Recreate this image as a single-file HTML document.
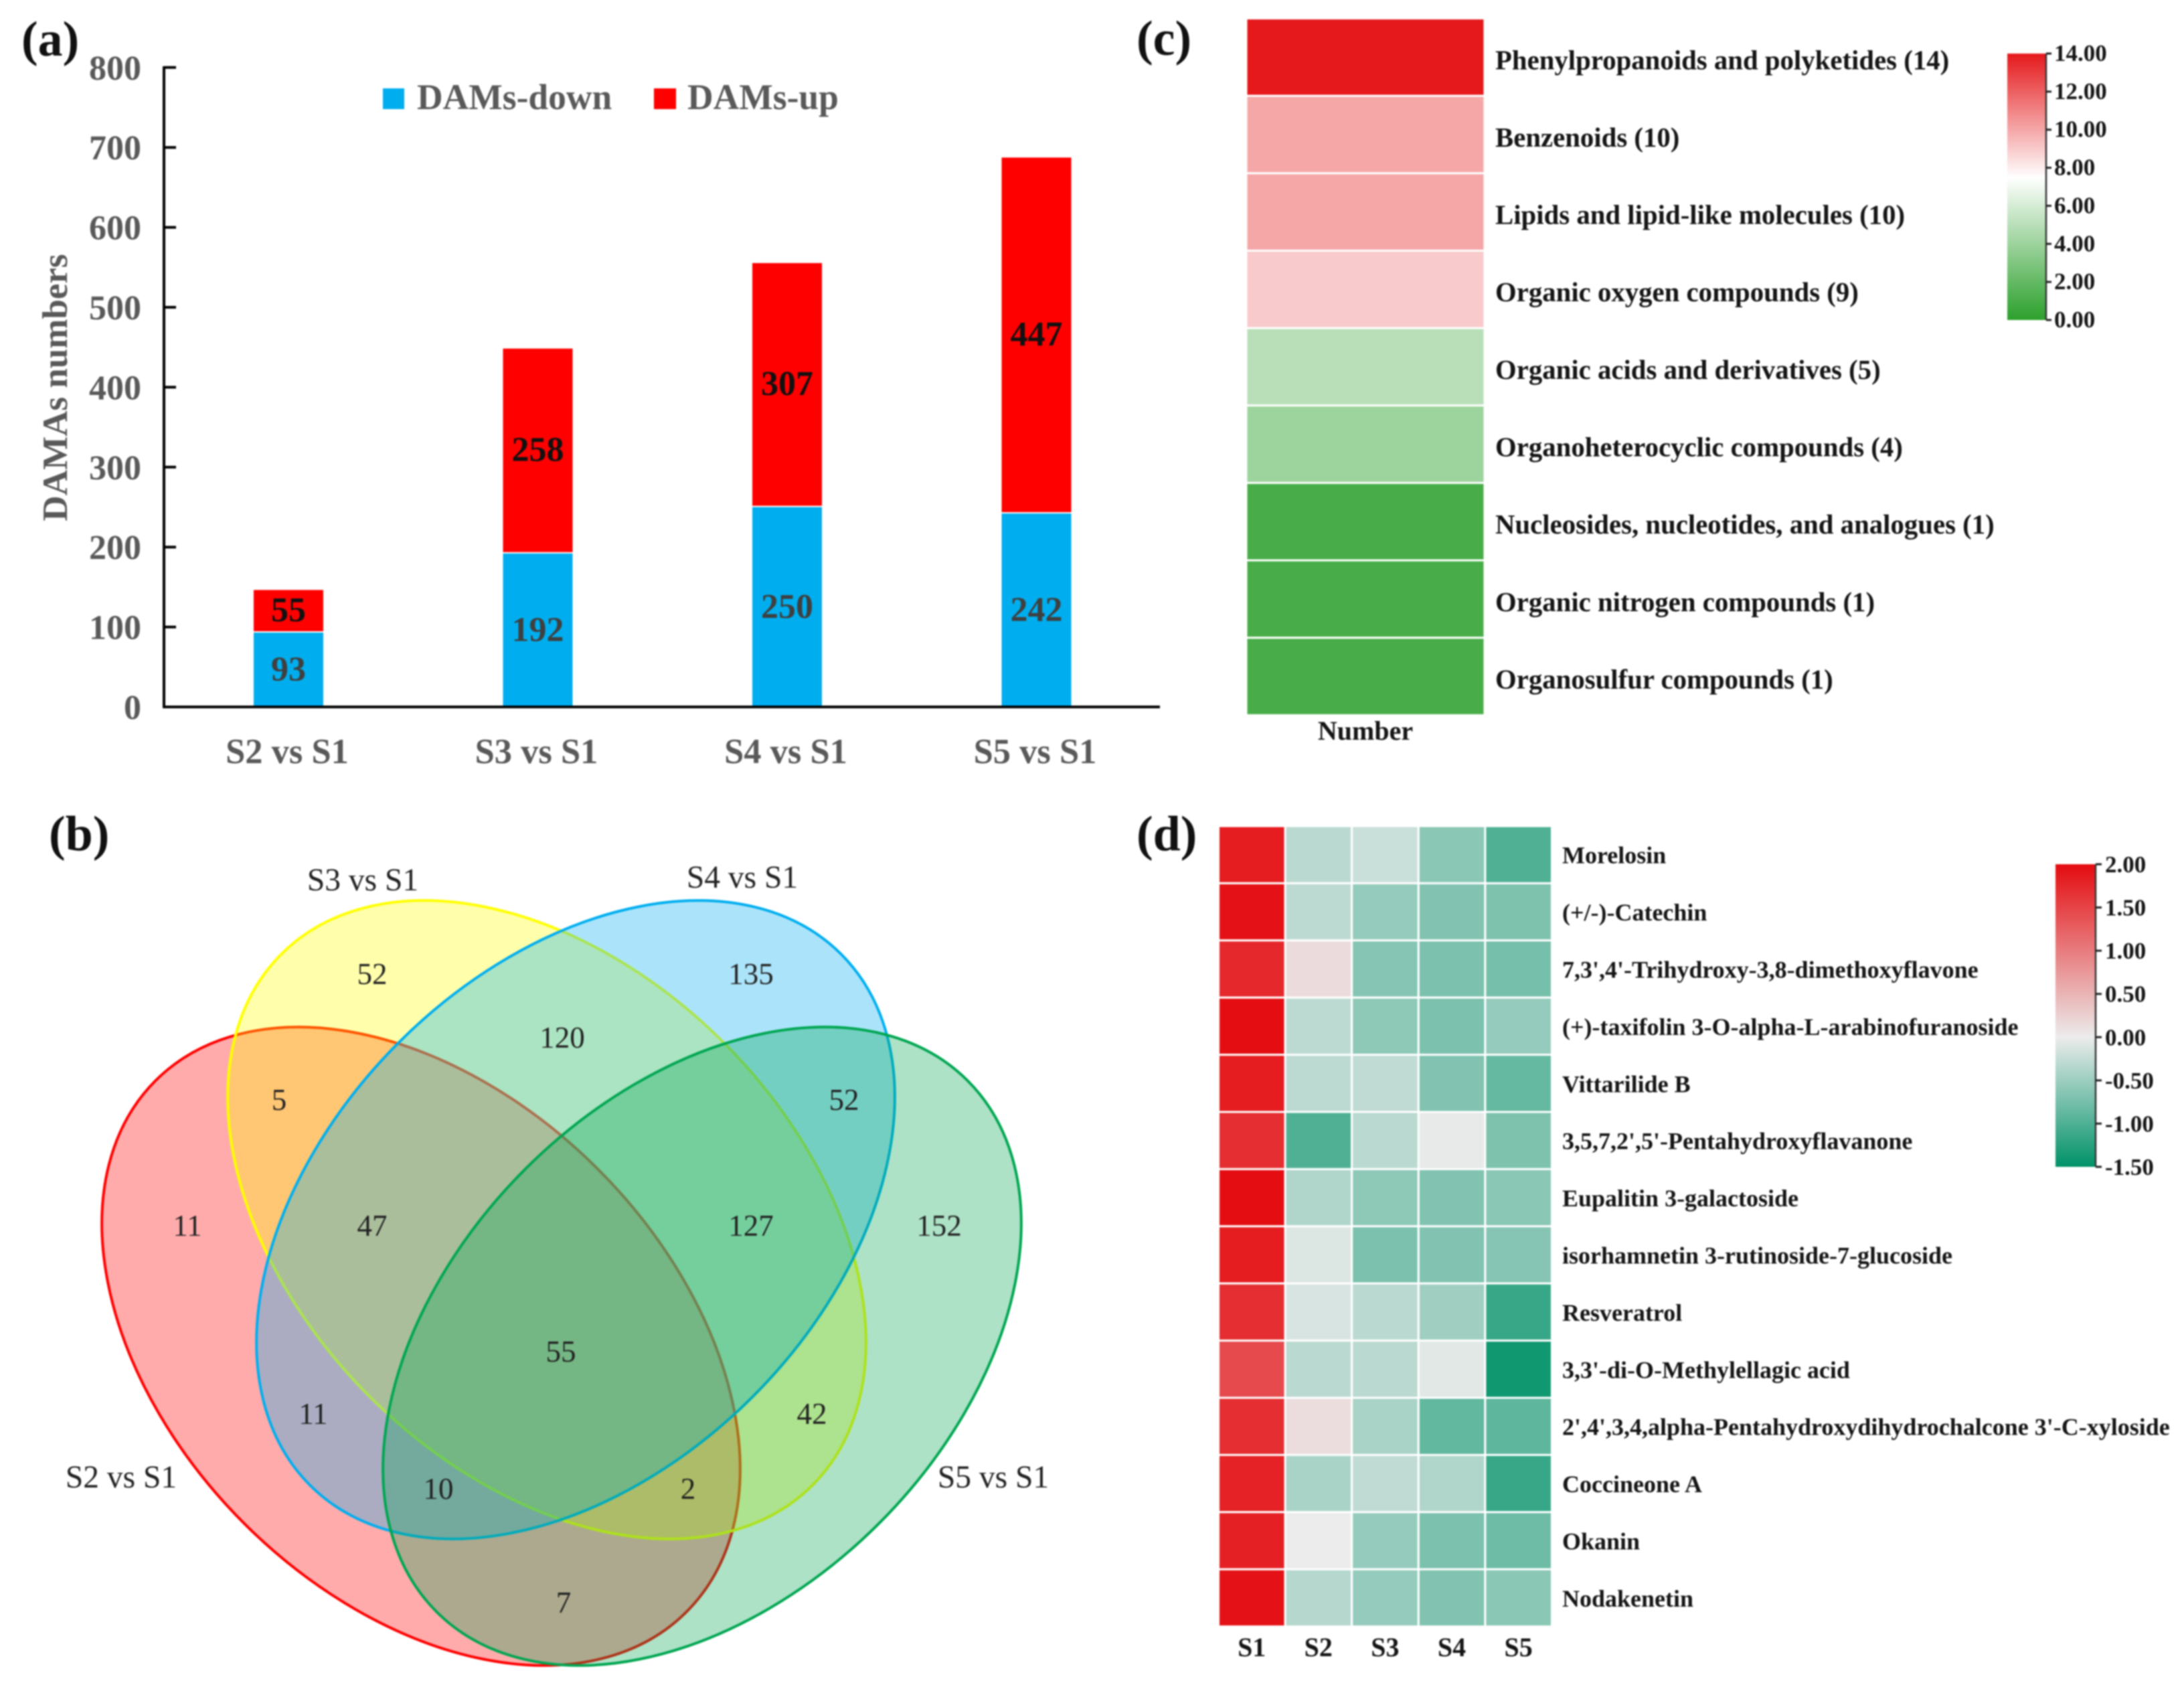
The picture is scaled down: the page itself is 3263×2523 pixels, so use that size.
<!DOCTYPE html>
<html lang="en">
<head>
<meta charset="utf-8">
<title>DAMs overview figure</title>
<style>
html,body{margin:0;padding:0;background:#fff;width:3263px;height:2523px;overflow:hidden;}
svg{display:block;overflow:hidden;}
#root{filter:blur(1px);}
text{font-family:"Liberation Serif",serif;}
.b{font-weight:bold;}
.panel{font-size:74px;font-weight:bold;fill:#111;}
.venn-num{font-size:45px;fill:#222;text-anchor:middle;}
.venn-lab{font-size:47.5px;fill:#222;text-anchor:middle;}
</style>
</head>
<body>
<svg id="fig" xmlns="http://www.w3.org/2000/svg" width="3263" height="2523" viewBox="0 0 3263 2523">
  <rect width="3263" height="2523" fill="#fff"/>
  <defs id="defs"></defs>
  <g id="root">

  <text class="panel" x="32" y="83">(a)</text>
  <text class="panel" x="73" y="1270">(b)</text>
  <text class="panel" x="1698" y="82">(c)</text>
  <text class="panel" x="1698" y="1270">(d)</text>

  <!-- Panel a -->
  <g id="panel-a">
    <g id="a-bars"></g>
    <line x1="245" y1="99" x2="245" y2="1058" stroke="#000" stroke-width="4"/>
    <line x1="243" y1="1056" x2="1733" y2="1056" stroke="#000" stroke-width="4"/>
    <g id="a-axis"></g>
    <text class="b" transform="translate(100,579) rotate(-90)" text-anchor="middle" font-size="53" fill="#595959">DAMAs numbers</text>
    <rect x="572" y="132" width="32" height="31" fill="#00AEEF"/>
    <text class="b" x="623" y="163" font-size="53.5" fill="#595959">DAMs-down</text>
    <rect x="977" y="132" width="33" height="31" fill="#FF0000"/>
    <text class="b" x="1027" y="163" font-size="53.5" fill="#595959">DAMs-up</text>
  </g>

  <!-- Panel b -->
  <g id="panel-b">
    <path d="M232.3 1614.3 A561 374 45 1 0 1025.7 2407.7 A561 374 45 1 0 232.3 1614.3 Z" fill="#FF0000" fill-opacity="0.33" stroke="#FF0000" stroke-width="4"/>
    <path d="M420.3 1425.3 A561 374 45 1 0 1213.7 2218.7 A561 374 45 1 0 420.3 1425.3 Z" fill="#FFFF00" fill-opacity="0.33" stroke="#FFFF00" stroke-width="4"/>
    <path d="M463.3 2218.7 A561 374 -45 1 0 1256.7 1425.3 A561 374 -45 1 0 463.3 2218.7 Z" fill="#00AEEF" fill-opacity="0.33" stroke="#00AEEF" stroke-width="4"/>
    <path d="M652.3 2407.7 A561 374 -45 1 0 1445.7 1614.3 A561 374 -45 1 0 652.3 2407.7 Z" fill="#00A651" fill-opacity="0.32" stroke="#00A651" stroke-width="4"/>
    <text class="venn-lab" x="542" y="1330">S3 vs S1</text>
    <text class="venn-lab" x="1109" y="1326">S4 vs S1</text>
    <text class="venn-lab" x="181" y="2222">S2 vs S1</text>
    <text class="venn-lab" x="1484" y="2222">S5 vs S1</text>
    <text class="venn-num" x="556" y="1470">52</text>
    <text class="venn-num" x="1122" y="1470">135</text>
    <text class="venn-num" x="840" y="1565">120</text>
    <text class="venn-num" x="417" y="1658">5</text>
    <text class="venn-num" x="1261" y="1658">52</text>
    <text class="venn-num" x="280" y="1846">11</text>
    <text class="venn-num" x="556" y="1846">47</text>
    <text class="venn-num" x="1122" y="1846">127</text>
    <text class="venn-num" x="1403" y="1846">152</text>
    <text class="venn-num" x="838" y="2034">55</text>
    <text class="venn-num" x="468" y="2127">11</text>
    <text class="venn-num" x="1213" y="2127">42</text>
    <text class="venn-num" x="655" y="2239">10</text>
    <text class="venn-num" x="1028" y="2239">2</text>
    <text class="venn-num" x="842" y="2409">7</text>
  </g>

  <g id="panel-c"></g>
  <g id="panel-d"></g>
  </g>
</svg>

<script>
// Panel a data
const barCategories = ['S2 vs S1', 'S3 vs S1', 'S4 vs S1', 'S5 vs S1'];
const downValues = [93, 192, 250, 242];
const upValues = [55, 258, 307, 447];
const barTicks = [0, 100, 200, 300, 400, 500, 600, 700, 800];

// Panel c data
const classNames = ['Phenylpropanoids and polyketides', 'Benzenoids', 'Lipids and lipid-like molecules', 'Organic oxygen compounds', 'Organic acids and derivatives', 'Organoheterocyclic compounds', 'Nucleosides, nucleotides, and analogues', 'Organic nitrogen compounds', 'Organosulfur compounds'];
const classCounts = [14, 10, 10, 9, 5, 4, 1, 1, 1];
const classColumn = 'Number';
const classTicks = ['14.00', '12.00', '10.00', '8.00', '6.00', '4.00', '2.00', '0.00'];

// Panel d data
const metaboliteNames = ['Morelosin', '(+/-)-Catechin', "7,3',4'-Trihydroxy-3,8-dimethoxyflavone", '(+)-taxifolin 3-O-alpha-L-arabinofuranoside', 'Vittarilide B', "3,5,7,2',5'-Pentahydroxyflavanone", 'Eupalitin 3-galactoside', 'isorhamnetin 3-rutinoside-7-glucoside', 'Resveratrol', "3,3'-di-O-Methylellagic acid", "2',4',3,4,alpha-Pentahydroxydihydrochalcone 3'-C-xyloside", 'Coccineone A', 'Okanin', 'Nodakenetin'];
const sampleNames = ['S1', 'S2', 'S3', 'S4', 'S5'];
const zMorelosin = [1.85, -0.32, -0.22, -0.62, -1.0];
const zCatechin = [1.95, -0.3, -0.55, -0.68, -0.7];
const zTrihydroxy = [1.75, 0.15, -0.65, -0.72, -0.75];
const zTaxifolin = [1.98, -0.3, -0.6, -0.72, -0.55];
const zVittarilide = [1.85, -0.3, -0.28, -0.68, -0.85];
const zPentaflavanone = [1.7, -1.0, -0.32, -0.03, -0.7];
const zEupalitin = [1.98, -0.38, -0.6, -0.68, -0.62];
const zIsorhamnetin = [1.85, -0.1, -0.72, -0.68, -0.65];
const zResveratrol = [1.7, -0.13, -0.32, -0.48, -1.15];
const zEllagic = [1.45, -0.32, -0.32, -0.07, -1.4];
const zChalcone = [1.7, 0.13, -0.42, -0.88, -0.9];
const zCoccineone = [1.8, -0.42, -0.28, -0.38, -1.15];
const zOkanin = [1.82, 0, -0.55, -0.72, -0.8];
const zNodakenetin = [1.95, -0.35, -0.55, -0.68, -0.62];
const zRows = [zMorelosin, zCatechin, zTrihydroxy, zTaxifolin, zVittarilide, zPentaflavanone, zEupalitin, zIsorhamnetin, zResveratrol, zEllagic, zChalcone, zCoccineone, zOkanin, zNodakenetin];
const zTicks = ['2.00', '1.50', '1.00', '0.50', '0.00', '-0.50', '-1.00', '-1.50'];

const NS = 'http://www.w3.org/2000/svg';
function mk(tag, parent, attrs, txt) {
  const e = document.createElementNS(NS, tag);
  for (const k in attrs) e.setAttribute(k, attrs[k]);
  if (txt !== undefined) e.textContent = txt;
  parent.appendChild(e);
  return e;
}
function mix(a, b, t) {
  return 'rgb(' + a.map((v, i) => Math.round(v + (b[i] - v) * t)).join(',') + ')';
}
function ramp(low, mid, high, vmin, vmid, vmax) {
  return function (v) {
    return v >= vmid ? mix(mid, high, (v - vmid) / (vmax - vmid)) : mix(mid, low, (vmid - v) / (vmid - vmin));
  };
}

// ---------- Panel a ----------
const aY = v => 1056 - v * 1.194;
const aX = i => 431 + i * 372.5;
const aBars = document.getElementById('a-bars');
const aAxis = document.getElementById('a-axis');
barCategories.forEach((c, i) => {
  const d = downValues[i], u = upValues[i], cx = aX(i);
  const r1 = mk('rect', aBars, {x: cx - 52, y: aY(d), width: 104, height: aY(0) - aY(d), fill: '#00AEEF'});
  
  
  const r2 = mk('rect', aBars, {x: cx - 52, y: aY(d + u) + 2, width: 104, height: aY(d) - aY(d + u) - 4, fill: '#FF0000'});
  
  
  const t1 = mk('text', aBars, {x: cx, y: aY(d / 2) + 16, 'text-anchor': 'middle', 'font-size': 52, 'font-weight': 'bold', fill: '#3f3f3f'}, String(d));
  
  
  const t2 = mk('text', aBars, {x: cx, y: aY(d + u / 2) + 16, 'text-anchor': 'middle', 'font-size': 52, 'font-weight': 'bold', fill: '#111'}, String(u));
  
  
  const t3 = mk('text', aAxis, {x: cx - 2, y: 1140, 'text-anchor': 'middle', 'font-size': 52.5, 'font-weight': 'bold', fill: '#595959'}, c);
  
  
});
barTicks.forEach(v => {
  const l = mk('line', aAxis, {x1: 245, x2: 263, y1: aY(v), y2: aY(v), stroke: '#000', 'stroke-width': 4});
  
  
  const t = mk('text', aAxis, {x: 211, y: aY(v) + 18, 'text-anchor': 'end', 'font-size': 52, 'font-weight': 'bold', fill: '#595959'}, String(v));
  
  
});

// ---------- Panel c ----------
const cColor = ramp([44, 160, 44], [255, 255, 255], [229, 25, 28], 0, 7.5, 14);
const cY = i => 27.5 + i * 115.65;
const pc = document.getElementById('panel-c');
classNames.forEach((n, i) => {
  const r = mk('rect', pc, {x: 1862, y: cY(i), width: 356, height: 115.65, fill: cColor(classCounts[i]), stroke: '#fff', 'stroke-width': 3});
  
  
  const t = mk('text', pc, {x: 2234, y: cY(i) + 57.75 + 18, 'font-size': 40.8, 'font-weight': 'bold', fill: '#151515'}, n + ' (' + classCounts[i] + ')');
  
  
});
const cCol = mk('text', pc, {x: 2040, y: 1105, 'text-anchor': 'middle', 'font-size': 40, 'font-weight': 'bold', fill: '#151515'}, classColumn);



const defs = document.getElementById('defs');
const gc = mk('linearGradient', defs, {id: 'grad-c', x1: 0, y1: 0, x2: 0, y2: 1});
[14, 12, 10, 9, 8, 7.5, 7, 6, 5, 4, 2, 0].forEach(v => mk('stop', gc, {offset: (14 - v) / 14, 'stop-color': cColor(v)}));
const cbc = mk('rect', pc, {x: 2999, y: 80, width: 58, height: 398, fill: 'url(#grad-c)'});


const cbcAxis = mk('line', pc, {x1: 3057, x2: 3057, y1: 80, y2: 478, stroke: '#333', 'stroke-width': 2.5});


classTicks.forEach((lab, i) => {
  const y = 80 + i * 398 / (classTicks.length - 1);
  const l = mk('line', pc, {x1: 3057, x2: 3065, y1: y, y2: y, stroke: '#222', 'stroke-width': 3});
  
  
  const t = mk('text', pc, {x: 3069, y: y + 11, 'font-size': 35, 'font-weight': 'bold', fill: '#151515'}, lab);
  
  
});

// ---------- Panel d ----------
const dColor = ramp([0, 146, 104], [236, 236, 236], [228, 12, 16], -1.5, 0, 2);
const dX = j => 1820.5 + j * 99.6;
const dY = i => 1234 + i * 85.4;
const pd = document.getElementById('panel-d');
zRows.forEach((row, i) => {
  row.forEach((v, j) => {
    const r = mk('rect', pd, {x: dX(j), y: dY(i), width: 99.6, height: 85.4, fill: dColor(v), stroke: '#fff', 'stroke-width': 3});
    
    
  });
  const t = mk('text', pd, {x: 2334, y: dY(i) + 42.7 + 13, 'font-size': 36, 'font-weight': 'bold', fill: '#151515'}, metaboliteNames[i]);
  
  
});
sampleNames.forEach((s, j) => {
  const t = mk('text', pd, {x: dX(j) + 49.7, y: 2474, 'text-anchor': 'middle', 'font-size': 40, 'font-weight': 'bold', fill: '#151515'}, s);
  
  
});
const gd = mk('linearGradient', defs, {id: 'grad-d', x1: 0, y1: 0, x2: 0, y2: 1});
[2, 1.5, 1, 0.5, 0, -0.5, -1, -1.5].forEach(v => mk('stop', gd, {offset: (2 - v) / 3.5, 'stop-color': dColor(v)}));
const cbd = mk('rect', pd, {x: 3071, y: 1291, width: 60, height: 452, fill: 'url(#grad-d)'});


const cbdAxis = mk('line', pd, {x1: 3131, x2: 3131, y1: 1291, y2: 1743, stroke: '#333', 'stroke-width': 2.5});


zTicks.forEach((lab, i) => {
  const y = 1291 + i * 452 / (zTicks.length - 1);
  const l = mk('line', pd, {x1: 3131, x2: 3140, y1: y, y2: y, stroke: '#222', 'stroke-width': 3});
  
  
  const t = mk('text', pd, {x: 3145, y: y + 12, 'font-size': 35, 'font-weight': 'bold', fill: '#151515'}, lab);
  
  
});
</script>
</body>
</html>
